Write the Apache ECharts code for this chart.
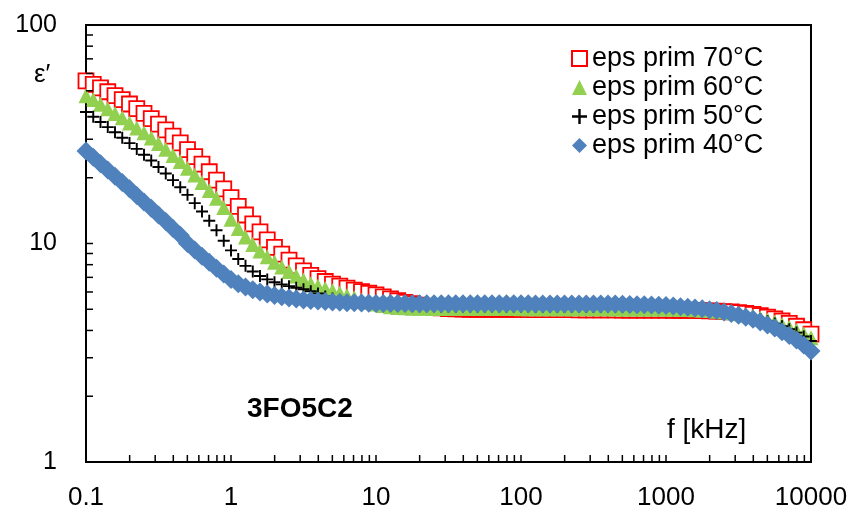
<!DOCTYPE html>
<html>
<head>
<meta charset="utf-8">
<title>3FO5C2</title>
<script src="https://cdn.jsdelivr.net/npm/echarts@6/dist/echarts.min.js"></script>
<style>
	html, body { margin: 0; padding: 0; background: #fff; }
	#echartsmain { width: 855px; height: 513px; }
</style>
</head>
<body>
<div id="echartsmain"></div>
<script>
// 频率 f [kHz]
var freq = [0.1,0.1122,0.1259,0.1413,0.1585,0.1778,0.1995,0.2239,0.2512,0.2818,0.3162,0.3548,0.3981,0.4467,0.5012,0.5623,0.631,0.7079,0.7943,0.8913,
	1,1.122,1.259,1.413,1.585,1.778,1.995,2.239,2.512,2.818,3.162,3.548,3.981,4.467,5.012,5.623,6.31,7.079,7.943,8.913,
	10,11.22,12.59,14.13,15.85,17.78,19.95,22.39,25.12,28.18,31.62,35.48,39.81,44.67,50.12,56.23,63.1,70.79,79.43,89.13,
	100,112.2,125.9,141.3,158.5,177.8,199.5,223.9,251.2,281.8,316.2,354.8,398.1,446.7,501.2,562.3,631,707.9,794.3,891.3,
	1000,1122,1259,1413,1585,1778,1995,2239,2512,2818,3162,3548,3981,4467,5012,5623,6310,7079,7943,8913,10000];

var eps70 = [55.5,53.5,51.5,49.5,47.5,45.5,43.5,41.4,39.4,37.3,
	35.2,33.1,31.0,28.9,26.9,25.0,23.1,21.3,19.5,17.8,
	16.2,14.8,13.5,12.3,11.3,10.4,9.6,8.95,8.4,7.9,
	7.5,7.15,6.9,6.7,6.52,6.38,6.25,6.12,6.02,5.92,
	5.82,5.7,5.58,5.47,5.38,5.3,5.22,5.16,5.11,5.07,
	5.04,5.02,5.01,5.0,5.0,5.0,4.99,4.99,4.99,4.99,
	4.99,4.99,4.98,4.98,4.98,4.98,4.98,4.98,4.97,4.97,
	4.97,4.97,4.97,4.97,4.96,4.96,4.96,4.96,4.96,4.96,
	4.96,4.95,4.95,4.94,4.94,4.93,4.92,4.9,4.88,4.86,
	4.83,4.79,4.74,4.68,4.6,4.52,4.42,4.31,4.18,4.03,3.85];

var eps60 = [47.5,45.6,43.4,41.4,39.4,37.6,35.6,33.8,32.1,30.4,
	28.7,27.0,25.3,23.7,22.1,20.6,19.0,17.5,16.1,14.6,
	12.9,11.7,10.7,9.9,9.25,8.7,8.2,7.8,7.45,7.1,
	6.8,6.55,6.38,6.22,6.08,5.93,5.78,5.64,5.5,5.38,
	5.28,5.2,5.14,5.1,5.08,5.06,5.05,5.05,5.04,5.04,
	5.04,5.04,5.04,5.04,5.04,5.04,5.04,5.04,5.04,5.04,
	5.03,5.03,5.03,5.03,5.03,5.03,5.03,5.03,5.03,5.03,
	5.03,5.03,5.03,5.02,5.02,5.02,5.02,5.02,5.02,5.02,
	5.02,5.01,5.0,4.99,4.98,4.96,4.93,4.9,4.86,4.82,
	4.77,4.71,4.64,4.56,4.47,4.37,4.26,4.14,4.0,3.86,3.7];

var eps50 = [40.0,38.0,36.0,34.1,32.3,30.5,28.8,27.1,25.5,24.0,
	22.4,20.9,19.5,18.1,16.7,15.3,14.0,12.7,11.5,10.3,
	9.3,8.5,7.9,7.45,7.1,6.85,6.65,6.5,6.38,6.27,
	6.17,6.05,5.9,5.72,5.6,5.5,5.43,5.38,5.33,5.29,
	5.26,5.23,5.21,5.19,5.18,5.17,5.16,5.16,5.16,5.15,
	5.15,5.15,5.15,5.15,5.15,5.15,5.15,5.15,5.15,5.15,
	5.15,5.15,5.14,5.14,5.14,5.14,5.14,5.14,5.14,5.14,
	5.14,5.14,5.14,5.14,5.13,5.13,5.13,5.13,5.13,5.12,
	5.12,5.11,5.09,5.07,5.04,5.01,4.97,4.93,4.88,4.82,
	4.76,4.68,4.6,4.51,4.41,4.3,4.18,4.05,3.91,3.75,3.58];

var eps40 = [26.5,24.8,23.2,21.7,20.3,19.0,17.8,16.6,15.5,14.5,
	13.5,12.6,11.7,10.9,10.0,9.35,8.75,8.2,7.7,7.25,
	6.85,6.55,6.32,6.15,6.0,5.88,5.78,5.7,5.63,5.57,
	5.52,5.48,5.45,5.42,5.4,5.38,5.36,5.35,5.34,5.33,
	5.32,5.32,5.31,5.31,5.31,5.3,5.3,5.3,5.3,5.3,
	5.3,5.3,5.3,5.3,5.3,5.3,5.3,5.3,5.3,5.3,
	5.3,5.3,5.29,5.29,5.29,5.29,5.29,5.29,5.29,5.29,
	5.29,5.29,5.28,5.28,5.27,5.26,5.25,5.24,5.23,5.22,
	5.2,5.17,5.14,5.11,5.07,5.03,4.98,4.93,4.86,4.78,
	4.7,4.6,4.5,4.37,4.24,4.1,3.95,3.79,3.62,3.43,3.22];

var seriesNames = ['eps prim 70°C','eps prim 60°C','eps prim 50°C','eps prim 40°C'];

// 刻度（向内的小刻度）
var xTicks = [0.2,0.3,0.4,0.5,0.6,0.7,0.8,0.9,1,2,3,4,5,6,7,8,9,10,20,30,40,50,60,70,80,90,100,
	200,300,400,500,600,700,800,900,1000,2000,3000,4000,5000,6000,7000,8000,9000];
var yTicks = [2,3,4,5,6,7,8,9,10,20,30,40,50,60,70,80,90];
var xLabels = ['0.1','1','10','100','1000','10000'];
var yLabels = ['1','10','100'];

var FONT = '"Liberation Sans", Arial, sans-serif';
var PLUS = 'path://M4.2,0h1.6v4.2h4.2v1.6h-4.2v4.2h-1.6v-4.2h-4.2v-1.6h4.2z';

function pairs(xs, ys) {
	var out = [];
	for (var i = 0; i < xs.length; i++) {
		out.push([xs[i], ys[i]]);
	}
	return out;
}

function fmt(v) {
	return String(+Number(v).toPrecision(6));
}

function setOption() {
	var myChart = echarts.init(document.getElementById('echartsmain'), null, {renderer: 'canvas'});
	var option = {
		backgroundColor: '#fff',
		animation: false,
		grid: {
			left: 86, right: 44, top: 25, bottom: 51,
			show: true, borderColor: '#000', borderWidth: 2
		},
		legend: {
			orient: 'vertical',
			left: 566, top: 40,
			itemWidth: 15, itemHeight: 15,
			itemGap: 2,
			data: seriesNames,
			textStyle: {fontFamily: FONT, fontSize: 27, color: '#000'}
		},
		graphic: [
			{type: 'text', left: 34, top: 62, style: {text: 'ε′', font: '26px ' + FONT, fill: '#000'}},
			{type: 'text', left: 247, top: 395, style: {text: '3FO5C2', font: 'bold 28px ' + FONT, fill: '#000'}},
			{type: 'text', left: 667, top: 416, style: {text: 'f [kHz]', font: '28px ' + FONT, fill: '#000'}}
		],
		xAxis: {
			type: 'log', logBase: 10, min: 0.1, max: 10000,
			axisLine: {show: true, onZero: false, lineStyle: {color: '#000', width: 2}},
			axisTick: {show: false},
			splitLine: {show: false},
			axisLabel: {
				margin: 23, fontFamily: FONT, fontSize: 26, color: '#000',
				formatter: function (v) {
					var s = fmt(v);
					return xLabels.indexOf(s) >= 0 ? s : '';
				}
			}
		},
		yAxis: {
			type: 'log', logBase: 10, min: 1, max: 100,
			axisLine: {show: true, onZero: false, lineStyle: {color: '#000', width: 2}},
			axisTick: {show: false},
			splitLine: {show: false},
			axisLabel: {
				margin: 29, fontFamily: FONT, fontSize: 25, color: '#000',
				formatter: function (v) {
					var s = fmt(v);
					return yLabels.indexOf(s) >= 0 ? s : '';
				}
			}
		},
		series: [
			{
				name: seriesNames[0], type: 'scatter', clip: false,
				symbol: 'rect', symbolSize: 15,
				itemStyle: {color: '#fff', borderColor: '#ff0000', borderWidth: 1.8, opacity: 1},
				data: pairs(freq, eps70)
			},
			{
				name: seriesNames[1], type: 'scatter', clip: false,
				symbol: 'triangle', symbolSize: 15,
				itemStyle: {color: '#92d050', opacity: 1},
				data: pairs(freq, eps60)
			},
			{
				name: seriesNames[2], type: 'scatter', clip: false,
				symbol: PLUS, symbolSize: 12,
				itemStyle: {color: '#000', opacity: 1},
				data: pairs(freq, eps50)
			},
			{
				name: seriesNames[3], type: 'scatter', clip: false,
				symbol: 'diamond', symbolSize: 19,
				itemStyle: {color: '#4f81bd', opacity: 1},
				data: pairs(freq, eps40)
			},
			{
				// x 轴小刻度
				type: 'custom', silent: true, clip: false, z: 5,
				renderItem: function (params, api) {
					var p = api.coord([api.value(0), api.value(1)]);
					return {type: 'line', shape: {x1: p[0], y1: p[1], x2: p[0], y2: p[1] - 7},
						style: {stroke: '#000', lineWidth: 1.5}};
				},
				data: xTicks.map(function (v) { return [v, 1]; })
			},
			{
				// y 轴小刻度
				type: 'custom', silent: true, clip: false, z: 5,
				renderItem: function (params, api) {
					var p = api.coord([api.value(0), api.value(1)]);
					return {type: 'line', shape: {x1: p[0], y1: p[1], x2: p[0] + 7, y2: p[1]},
						style: {stroke: '#000', lineWidth: 1.5}};
				},
				data: yTicks.map(function (v) { return [0.1, v]; })
			}
		]
	};
	myChart.setOption(option);
}

setOption();
</script>
</body>
</html>
